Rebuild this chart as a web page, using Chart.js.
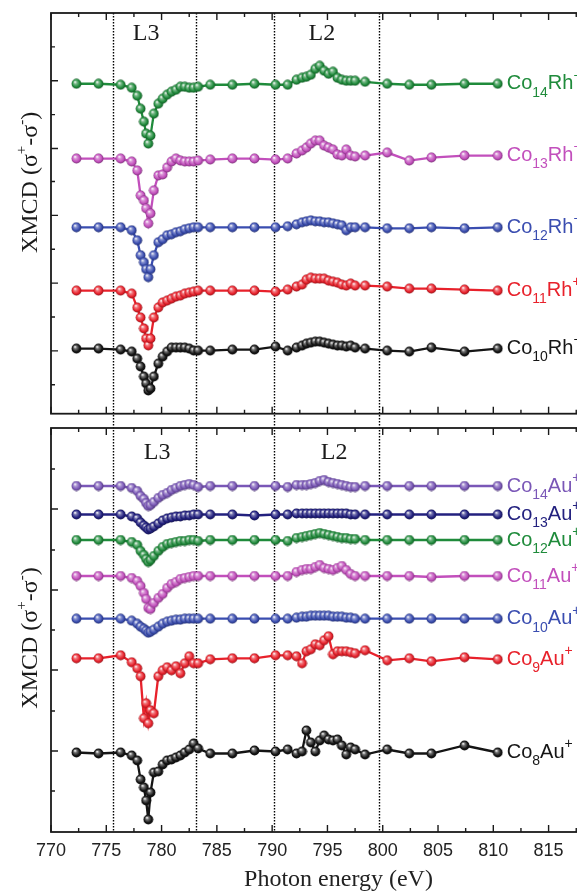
<!DOCTYPE html>
<html><head><meta charset="utf-8">
<script src="https://cdn.jsdelivr.net/npm/chart.js@4.4.1/dist/chart.umd.min.js"></script>
<style>
html,body{margin:0;padding:0;background:#fff;overflow:hidden;}
#wrap{position:relative;width:577px;height:891px;overflow:hidden;background:#fff;}
#c1{position:absolute;left:0;top:0;width:700px;height:421px;}
#c2{position:absolute;left:0;top:415px;width:700px;height:476px;}
</style></head><body>
<div id="wrap"><canvas id="c1" width="700" height="421"></canvas><canvas id="c2" width="700" height="476"></canvas></div>
<script>
// ---------- data ----------
const ENERGY = [772.3,774.3,776.3,777.3,777.8,778.1,778.4,778.6,778.8,779.0,779.3,779.7,780.1,780.5,780.9,781.3,781.7,782.1,782.5,782.9,783.3,784.4,786.4,788.4,790.3,791.4,792.2,792.7,793.1,793.5,793.9,794.3,794.7,795.1,795.5,795.9,796.3,796.7,797.1,797.5,798.4,800.4,802.4,804.4,807.4,810.4];

// top panel: Co_n Rh  (values relative to each trace's offset, arbitrary units)
const TOP_SIZES = [14, 13, 12, 11, 10];
const TOP_DOPANT = 'Rh';
const TOP_OFFSETS = [331, 256, 187, 123.5, 65.3];
const TOP_COLORS = ['#1f8b3b', '#c24fbc', '#3a4db0', '#e8212b', '#151515'];
const CO14RH = [0,0,-1,-4,-12,-25,-38,-50,-60,-52,-30,-20,-15,-11,-8,-6,-3,-3,-4,-4,-3,-1,-1,0,-1,-1,4,6,7,9,15,18,13,10,12,6,4,3,3,3,2,0,-1,-1,0,0];
const CO13RH = [0,0,0,-3,-12,-37,-42,-50,-65,-55,-32,-17,-16,-9,-3,0,-2,-3,-3,-3,-2,-1,0,0,-1,0,5,8,11,15,18,18,13,11,9,4,3,9,3,2,3,6,-2,1,3,3];
const CO12RH = [0,0,0,-3,-13,-28,-35,-42,-50,-42,-28,-15,-12,-8,-7,-5,-4,-2,-1,0,0,0,0,0,0,1,3,5,6,7,6,6,5,5,4,3,2,-3,0,0,0,-1,-1,0,-1,0];
const CO11RH = [0,0,0,-3,-17,-27,-38,-48,-55,-48,-27,-17,-12,-10,-8,-6,-5,-3,-2,-1,0,0,0,0,-1,1,4,6,11,13,12,12,12,10,9,8,6,5,7,5,5,4,2,2,1,0];
const CO10RH = [0,0,-1,-3,-10,-18,-28,-35,-42,-40,-28,-15,-8,-3,1,1,1,1,0,-2,-2,-2,-1,-1,2,-2,1,3,5,6,7,7,6,5,4,3,3,2,3,1,0,-2,-3,1,-3,0];
const TOP_SERIES = [CO14RH, CO13RH, CO12RH, CO11RH, CO10RH];

// bottom panel: Co_n Au
const BOT_SIZES = [14, 13, 12, 11, 10, 9, 8];
const BOT_DOPANT = 'Au';
const BOT_OFFSETS = [346, 317.5, 292, 256, 213.3, 173.7, 79.5];
const BOT_COLORS = ['#7a57b7', '#23217f', '#1f8b3b', '#c24fbc', '#3a4db0', '#e8212b', '#151515'];
const CO14AU = [0,0,0,-2,-5,-10,-13,-17,-20,-19,-16,-12,-9,-7,-4,-2,0,1,2,1,-1,0,0,0,0,-1,1,1,1,2,3,5,6,4,3,2,1,0,-1,-1,0,0,0,0,0,0];
const CO13AU = [0,0,0,-2,-4,-8,-11,-13,-15,-14,-12,-9,-6,-4,-3,-2,-2,-1,-1,0,0,0,0,-1,0,0,1,1,1,1,1,1,1,1,1,1,1,1,0,0,0,0,0,0,0,0];
const CO12AU = [0,0,0,-2,-5,-11,-15,-19,-22,-20,-16,-11,-7,-4,-3,-2,-1,-1,0,0,-1,0,0,0,0,-1,2,3,4,5,6,7,6,5,4,3,2,2,1,1,0,0,0,0,0,0];
const CO11AU = [0,0,0,-2,-5,-10,-17,-23,-32,-33,-27,-22,-18,-12,-8,-6,-3,-2,-1,0,0,0,0,0,0,0,4,6,7,7,9,11,8,7,6,8,10,6,2,0,0,0,0,-1,0,0];
const CO10AU = [0,0,0,-2,-5,-8,-10,-12,-14,-13,-11,-8,-5,-3,-2,-1,-1,0,0,0,0,0,0,0,0,0,1,2,2,3,3,3,3,3,2,2,2,1,1,0,0,0,0,0,0,0];
const CO9AU  = [0,0,3,-4,-10,-18,-60,-45,-65,-52,-55,-18,-12,-9,-12,-8,-15,-5,2,-5,-5,-1,0,0,3,3,2,-5,7,9,14,13,18,22,4,7,7,7,6,5,8,-2,0,-3,1,-1];
const CO8AU  = [0,-1,0,-3,-8,-27,-35,-48,-67,-40,-20,-19,-12,-8,-7,-5,-3,0,3,9,4,-1,-1,2,1,3,-1,1,22,10,1,12,17,13,12,13,7,-2,5,3,-2,3,-1,-1,7,0];
const BOT_SERIES = [CO14AU, CO13AU, CO12AU, CO11AU, CO10AU, CO9AU, CO8AU];

// axes / annotations
const X_TICK_LABELS = [770,775,780,785,790,795,800,805,810,815,820];
const X_TICK_MARKS = [770,772.5,775,777.5,780,782.5,785,787.5,790,792.5,795,797.5,800,802.5,805,807.5,810,812.5,815,817.5,820];
const TOP_Y_TICKS = [368,334,300,266,233,199,165,131,97,63,29];
const BOT_Y_TICKS = [363,323,282,242,202,162,121,81,41];
const EDGE_ENERGIES = [775.6, 783.1, 790.2, 799.7];
const EDGE_NAMES = ['L3', 'L2'];
const TOP_EDGE_POS = [778.6, 794.5];
const BOT_EDGE_POS = [779.6, 795.6];
const TOP_EDGE_Y = 381, BOT_EDGE_Y = 379;
const TOP_TITLE_Y = 232, BOT_TITLE_Y = 194;
const CHARGE = '+';

// ---------- helpers ----------
function hexRgb(h){h=h.replace('#','');return [0,2,4].map(i=>parseInt(h.substr(i,2),16));}
function mix(c,t,f){return 'rgb('+c.map((v,i)=>Math.round(v+(t[i]-v)*f)).join(',')+')';}
function sphere(color){
  const c=document.createElement('canvas');c.width=c.height=11;
  const g=c.getContext('2d');const rgb=hexRgb(color);
  const gr=g.createRadialGradient(4.0,3.6,0.2,5.5,5.5,5.2);
  gr.addColorStop(0,'#ffffff');gr.addColorStop(0.28,mix(rgb,[255,255,255],0.4));
  gr.addColorStop(0.7,color);gr.addColorStop(1,mix(rgb,[0,0,0],0.4));
  g.fillStyle=gr;g.beginPath();g.arc(5.5,5.5,4.9,0,Math.PI*2);g.fill();
  return c;
}
function richWidth(ctx,parts,base,small){
  let w=0;for(const [t,k] of parts){ctx.font=(k==='n'?base:small);w+=ctx.measureText(t).width;}return w;
}
function drawRich(ctx,parts,x,y,fam,size,ss,subOff,supOff){
  const base=size+'px '+fam, small=ss+'px '+fam;
  ctx.textBaseline='middle';ctx.textAlign='left';
  let cx=x;
  for(const [t,k] of parts){
    ctx.font=(k==='n'?base:small);
    const dy=k==='sub'?subOff:(k==='sup'?supOff:0);
    ctx.fillText(t,cx,y+dy);cx+=ctx.measureText(t).width;
  }
}
const TITLE_PARTS=[['XMCD (\u03c3','n'],['+','sup'],['-\u03c3','n'],['-','sup'],[')','n']];

const PANEL = {
  c1:{yTicks:TOP_Y_TICKS, edgePos:TOP_EDGE_POS, edgeY:TOP_EDGE_Y, titleY:TOP_TITLE_Y, sizes:TOP_SIZES, dopant:TOP_DOPANT, colors:TOP_COLORS, lineFromCanvasTop:false},
  c2:{yTicks:BOT_Y_TICKS, edgePos:BOT_EDGE_POS, edgeY:BOT_EDGE_Y, titleY:BOT_TITLE_Y, sizes:BOT_SIZES, dopant:BOT_DOPANT, colors:BOT_COLORS, lineFromCanvasTop:true}
};

const panelPlugin = {
  id:'panel',
  beforeDatasetsDraw(chart){
    const cfg=PANEL[chart.canvas.id];const {ctx,chartArea:a,scales:{x}}=chart;
    ctx.save();ctx.strokeStyle='#000';ctx.lineWidth=1.4;ctx.setLineDash([1.5,1.5]);
    for(const e of EDGE_ENERGIES){
      const px=Math.round(x.getPixelForValue(e))+0.5;
      ctx.beginPath();ctx.moveTo(px,cfg.lineFromCanvasTop?0:a.top);ctx.lineTo(px,a.bottom);ctx.stroke();
    }
    ctx.restore();
  },
  afterDraw(chart){
    const cfg=PANEL[chart.canvas.id];const {ctx,chartArea:a,scales:{x,y}}=chart;
    ctx.save();
    // frame
    ctx.strokeStyle='#1a1a1a';ctx.lineWidth=1.8;ctx.setLineDash([]);
    ctx.strokeRect(a.left,a.top,a.right-a.left,a.bottom-a.top);
    ctx.lineWidth=1.4;
    for(const v of X_TICK_MARKS){
      const px=x.getPixelForValue(v);const len=(v%5===0)?7:4;
      ctx.beginPath();ctx.moveTo(px,a.top);ctx.lineTo(px,a.top+len);ctx.moveTo(px,a.bottom);ctx.lineTo(px,a.bottom-len);ctx.stroke();
    }
    cfg.yTicks.forEach((v,i)=>{
      const py=y.getPixelForValue(v);const len=(i%2===1)?7:4;
      ctx.beginPath();ctx.moveTo(a.left,py);ctx.lineTo(a.left+len,py);ctx.moveTo(a.right,py);ctx.lineTo(a.right-len,py);ctx.stroke();
    });
    // edge labels
    ctx.fillStyle='#1a1a1a';ctx.font='24px "Liberation Serif", serif';ctx.textAlign='center';ctx.textBaseline='middle';
    EDGE_NAMES.forEach((t,i)=>ctx.fillText(t,x.getPixelForValue(cfg.edgePos[i]),y.getPixelForValue(cfg.edgeY)));
    // series labels
    chart.data.datasets.forEach((ds,i)=>{
      const meta=chart.getDatasetMeta(i);const pt=meta.data[meta.data.length-1];
      ctx.fillStyle=cfg.colors[i];
      drawRich(ctx,[['Co','n'],[String(cfg.sizes[i]),'sub'],[cfg.dopant,'n'],[CHARGE,'sup']],pt.x+9,pt.y,'"Liberation Sans", Arial, sans-serif',20,14,9,-8);
    });
    // y title
    ctx.fillStyle='#1a1a1a';
    const fam='"Liberation Serif", serif';
    ctx.translate(31,y.getPixelForValue(cfg.titleY));ctx.rotate(-Math.PI/2);
    const w=richWidth(ctx,TITLE_PARTS,'24px '+fam,'15px '+fam);
    drawRich(ctx,TITLE_PARTS,-w/2,0,fam,24,15,8,-9);
    ctx.restore();
  }
};

function buildDatasets(series,offsets,colors,sizes,dopant){
  return series.map((s,i)=>({
    label:'Co'+sizes[i]+dopant+CHARGE,
    data:ENERGY.map((e,j)=>({x:e,y:offsets[i]+s[j]})),
    borderColor:colors[i],backgroundColor:colors[i],borderWidth:2.3,
    showLine:true,tension:0,pointStyle:sphere(colors[i]),pointRadius:5
  }));
}

function makeChart(id,datasets,yMax,padding,showX){
  return new Chart(document.getElementById(id),{
    type:'scatter',
    data:{datasets},
    options:{
      responsive:false,animation:false,devicePixelRatio:1,
      layout:{padding},
      plugins:{legend:{display:false},tooltip:{enabled:false}},
      scales:{
        x:{type:'linear',min:770,max:822,display:showX,
          afterBuildTicks:s=>{s.ticks=X_TICK_LABELS.map(v=>({value:v}));},
          afterFit:s=>{s.height=showX?59:0;},
          grid:{display:false,drawTicks:false},border:{display:false},
          ticks:{font:{family:'"Liberation Sans", Arial, sans-serif',size:18},color:'#222',padding:8,maxRotation:0,autoSkip:false},
          title:{display:true,text:'Photon energy (eV)',font:{family:'"Liberation Serif", serif',size:24,lineHeight:0.9},color:'#222',padding:0}
        },
        y:{type:'linear',min:0,max:yMax,display:false}
      }
    },
    plugins:[panelPlugin]
  });
}

makeChart('c1',buildDatasets(TOP_SERIES,TOP_OFFSETS,TOP_COLORS,TOP_SIZES,TOP_DOPANT),402,{top:13,left:51,right:74,bottom:6},false);
makeChart('c2',buildDatasets(BOT_SERIES,BOT_OFFSETS,BOT_COLORS,BOT_SIZES,BOT_DOPANT),404,{top:13,left:51,right:74,bottom:0},true);
</script>
</body></html>
